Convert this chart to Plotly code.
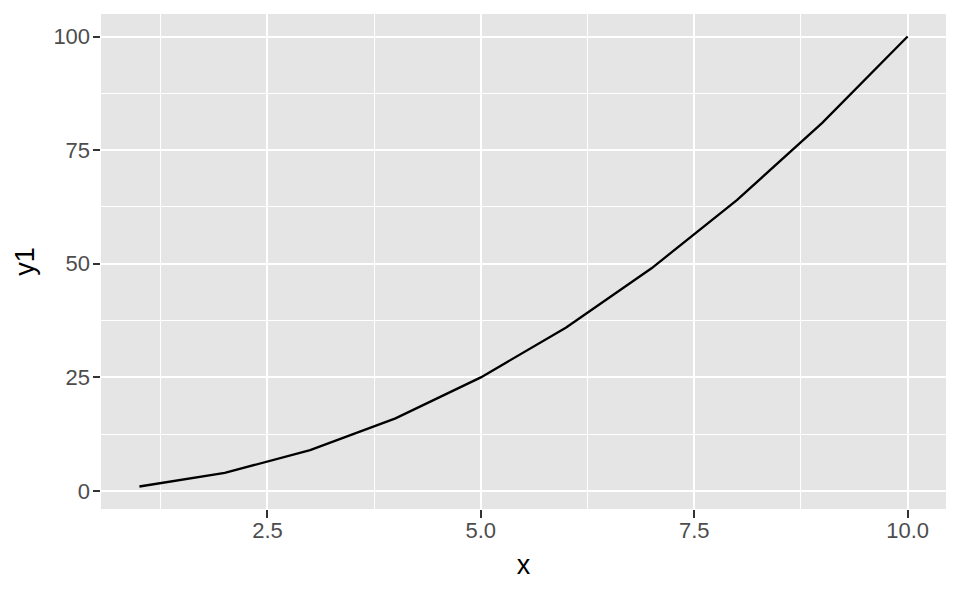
import plotly.graph_objects as go

x = [1, 2, 3, 4, 5, 6, 7, 8, 9, 10]
y1 = [1, 4, 9, 16, 25, 36, 49, 64, 81, 100]
x_ticks = [2.5, 5.0, 7.5, 10.0]
x_tick_labels = ["2.5", "5.0", "7.5", "10.0"]
x_minor = [1.25, 3.75, 6.25, 8.75]
y_ticks = [0, 25, 50, 75, 100]
y_tick_labels = ["0", "25", "50", "75", "100"]
y_minor = [12.5, 37.5, 62.5, 87.5]

xmin, xmax = min(x), max(x)
ymin, ymax = min(y1), max(y1)
xpad = (xmax - xmin) * 0.05
ypad = (ymax - ymin) * 0.05

FONT = "Liberation Sans, Arial, Helvetica"

fig = go.Figure()
fig.add_trace(go.Scatter(x=x, y=y1, mode="lines",
                         line=dict(color="black", width=2.3), showlegend=False))

axis_common = dict(
    showgrid=True, gridcolor="white", gridwidth=2.4,
    zeroline=False, showline=False,
    ticks="outside", ticklen=7.5, tickwidth=2.2, tickcolor="#333333",
    tickfont=dict(family=FONT, size=22, color="#4D4D4D"),
    minor=dict(showgrid=True, gridcolor="white", gridwidth=1.2, ticks=""),
)

fig.update_xaxes(range=[xmin - xpad, xmax + xpad], tickmode="array",
                 tickvals=x_ticks, ticktext=x_tick_labels,
                 minor_tickmode="array", minor_tickvals=x_minor,
                 ticklabelstandoff=-6,
                 title=dict(text="x", font=dict(family=FONT, size=27, color="black"), standoff=13),
                 **axis_common)
fig.update_yaxes(range=[ymin - ypad, ymax + ypad], tickmode="array",
                 tickvals=y_ticks, ticktext=y_tick_labels,
                 minor_tickmode="array", minor_tickvals=y_minor,
                 ticklabelstandoff=-2,
                 title=dict(text="y1", font=dict(family=FONT, size=27, color="black"), standoff=10),
                 **axis_common)

fig.update_layout(
    width=944, height=577,
    plot_bgcolor="#E5E5E5", paper_bgcolor="white",
    margin=dict(l=93, r=6, t=5.5, b=76.3, pad=0),
)

fig.write_html("out.html")
